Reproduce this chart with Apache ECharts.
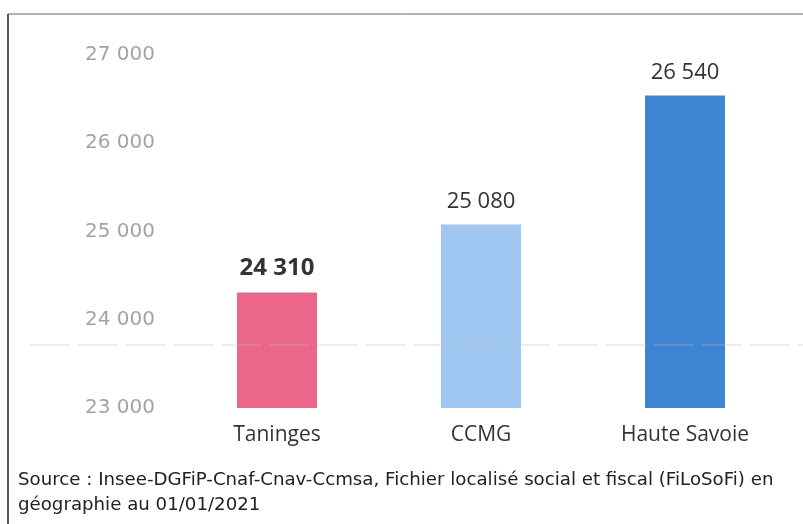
<!DOCTYPE html>
<html>
<head>
<meta charset="utf-8">
<script src="https://cdn.jsdelivr.net/npm/echarts@6/dist/echarts.min.js"></script>
<style>
  html, body { margin: 0; padding: 0; background: #fff; }
  #chart { width: 803px; height: 524px; }
</style>
</head>
<body>
<div id="chart"></div>
<script>
  // donnees
  var categories = ['Taninges', 'CCMG', 'Haute Savoie'];
  var values = [24310, 25080, 26540];
  var barColors = ['#ec668c', '#a0c7f2', '#3d85d3'];
  var yTicks = { min: 23000, max: 27000, interval: 1000 };

  function fmt(v) {
    return String(v).replace(/\B(?=(\d{3})+(?!\d))/g, ' ');
  }

  var chart = echarts.init(document.getElementById('chart'));
  chart.setOption({
    animation: false,
    textStyle: { fontFamily: '"Open Sans", sans-serif' },
    grid: { left: 175, right: 16, top: 55, bottom: 116 },
    xAxis: {
      type: 'category',
      data: categories,
      axisLine: { show: false },
      axisTick: { show: false },
      axisLabel: { color: '#333', fontSize: 21, margin: 17 }
    },
    yAxis: {
      type: 'value',
      min: yTicks.min,
      max: yTicks.max,
      interval: yTicks.interval,
      splitLine: { show: false },
      axisLine: { show: false },
      axisTick: { show: false },
      axisLabel: {
        color: '#a3a3a3', fontSize: 20, margin: 20,
        fontFamily: '"DejaVu Sans", sans-serif',
        formatter: function (v) { return fmt(v); }
      }
    },
    series: [{
      type: 'bar',
      barWidth: 80,
      data: values.map(function (v, i) {
        return {
          value: v,
          itemStyle: { color: barColors[i] },
          label: i === 0 ? { fontWeight: 'bold', fontSize: 24 } : {}
        };
      }),
      label: {
        show: true,
        position: 'top',
        distance: 12,
        color: '#333',
        fontSize: 22,
        formatter: function (p) { return fmt(p.value); }
      }
    }],
    graphic: [
      { type: 'line', shape: { x1: 8, y1: 14, x2: 803, y2: 14 }, style: { stroke: '#666', lineWidth: 1 } },
      { type: 'line', shape: { x1: 8, y1: 14, x2: 8, y2: 524 }, style: { stroke: '#555', lineWidth: 2 } },
      { type: 'line', z: 100, shape: { x1: 30, y1: 345, x2: 803, y2: 345 }, style: { stroke: '#bbb', lineWidth: 1, opacity: 0.5, lineDash: [40, 8] } },
      {
        type: 'text', left: 18, top: 468,
        style: {
          text: 'Source : Insee-DGFiP-Cnaf-Cnav-Ccmsa, Fichier localisé social et fiscal (FiLoSoFi) en\ngéographie au 01/01/2021',
          fill: '#222', fontSize: 18.2, lineHeight: 25, fontFamily: '"DejaVu Sans", sans-serif'
        }
      }
    ]
  });
</script>
</body>
</html>
